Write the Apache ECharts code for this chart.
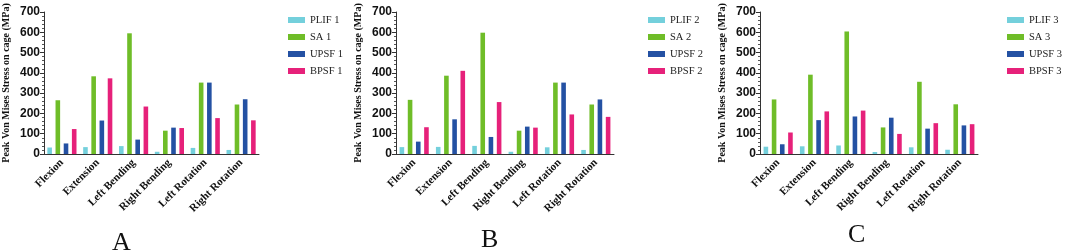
<!DOCTYPE html>
<html>
<head>
<meta charset="utf-8">
<script src="https://cdn.jsdelivr.net/npm/echarts@6/dist/echarts.min.js"></script>
<style>
  html, body { margin: 0; padding: 0; background: #fff; }
  #drew { width: 1065px; height: 251px; }
</style>
</head>
<body>
<div id="drew"></div>
<script>
// categories and readings (MPa) for the three panels
var categories = ['Flexion', 'Extension', 'Left Bending', 'Right Bending', 'Left Rotation', 'Right Rotation'];
var yTicks = [0, 100, 200, 300, 400, 500, 600, 700];

var plif1 = [32, 34, 39, 11, 30, 20];
var sa1   = [265, 383, 595, 115, 352, 244];
var upsf1 = [52, 165, 71, 130, 352, 270];
var bpsf1 = [123, 373, 234, 128, 177, 166];

var plif2 = [34, 35, 40, 11, 33, 20];
var sa2   = [267, 386, 598, 115, 352, 244];
var upsf2 = [61, 171, 84, 135, 352, 269];
var bpsf2 = [132, 410, 256, 130, 195, 183];

var plif3 = [36, 38, 42, 10, 33, 21];
var sa3   = [269, 391, 604, 131, 356, 245];
var upsf3 = [48, 167, 185, 179, 125, 141];
var bpsf3 = [106, 210, 214, 99, 152, 147];

var panels = [
    { tag: 'A', num: 1, data: [plif1, sa1, upsf1, bpsf1], left: 41, legendLeft: 288, letterX: 121, letterY: 230 },
    { tag: 'B', num: 2, data: [plif2, sa2, upsf2, bpsf2], left: 396, legendLeft: 648, letterX: 490, letterY: 227 },
    { tag: 'C', num: 3, data: [plif3, sa3, upsf3, bpsf3], left: 760, legendLeft: 1007, letterX: 857, letterY: 222 }
];
var groups = ['PLIF', 'SA', 'UPSF', 'BPSF'];
var colors = ['#74d0dc', '#6fbd28', '#2451a3', '#e6217a'];

var serif = '"Liberation Serif", "Times New Roman", serif';
var sans = '"Liberation Sans", Arial, sans-serif';

var grid = [], xAxis = [], yAxis = [], series = [], legend = [], graphic = [];

panels.forEach(function (p, i) {
    grid.push({ left: p.left, top: 12, width: 218, height: 142 });
    xAxis.push({
        type: 'category', gridIndex: i, data: categories,
        axisLine: { lineStyle: { color: '#333', width: 1 } },
        axisTick: { alignWithLabel: true, length: 4, lineStyle: { color: '#333' } },
        axisLabel: { rotate: 45, interval: 0, margin: 7, color: '#111', fontFamily: serif, fontWeight: 'bold', fontSize: 11 }
    });
    yAxis.push({
        type: 'value', gridIndex: i, min: 0, max: 700, interval: 100,
        name: 'Peak Von Mises Stress on cage (MPa)', nameLocation: 'middle', nameGap: 33,
        nameTextStyle: { fontFamily: serif, fontWeight: 'bold', fontSize: 10, color: '#111' },
        axisLine: { show: true, lineStyle: { color: '#333', width: 1 } },
        axisTick: { show: true, length: 4, lineStyle: { color: '#333' } },
        minorTick: { show: true, splitNumber: 5, length: 2, lineStyle: { color: '#555' } },
        splitLine: { show: false },
        axisLabel: { margin: 4, color: '#111', fontFamily: sans, fontWeight: 'bold', fontSize: 12,
            formatter: function (v) { return yTicks.indexOf(v) >= 0 ? String(v) : ''; } }
    });
    var names = [];
    groups.forEach(function (g, k) {
        var nm = g + ' ' + p.num;
        names.push(nm);
        series.push({
            type: 'bar', name: nm, xAxisIndex: i, yAxisIndex: i,
            data: p.data[k], barWidth: 4.6, barGap: '78%',
            itemStyle: { color: colors[k] }
        });
    });
    legend.push({
        data: names, orient: 'vertical', left: p.legendLeft, top: 13, padding: 0,
        icon: 'rect', itemWidth: 17, itemHeight: 6, itemGap: 3,
        textStyle: { fontFamily: serif, fontSize: 10.5, color: '#222', lineHeight: 14 }
    });
    graphic.push({
        type: 'text', left: p.letterX - 9, top: p.letterY,
        style: { text: p.tag, font: '26px ' + serif, fill: '#111' }
    });
});

var myChart = echarts.init(document.getElementById('drew'));
var option = {
    backgroundColor: '#fff',
    animation: false,
    color: colors,
    grid: grid,
    xAxis: xAxis,
    yAxis: yAxis,
    legend: legend,
    graphic: graphic,
    series: series
};
myChart.setOption(option);
</script>
</body>
</html>
